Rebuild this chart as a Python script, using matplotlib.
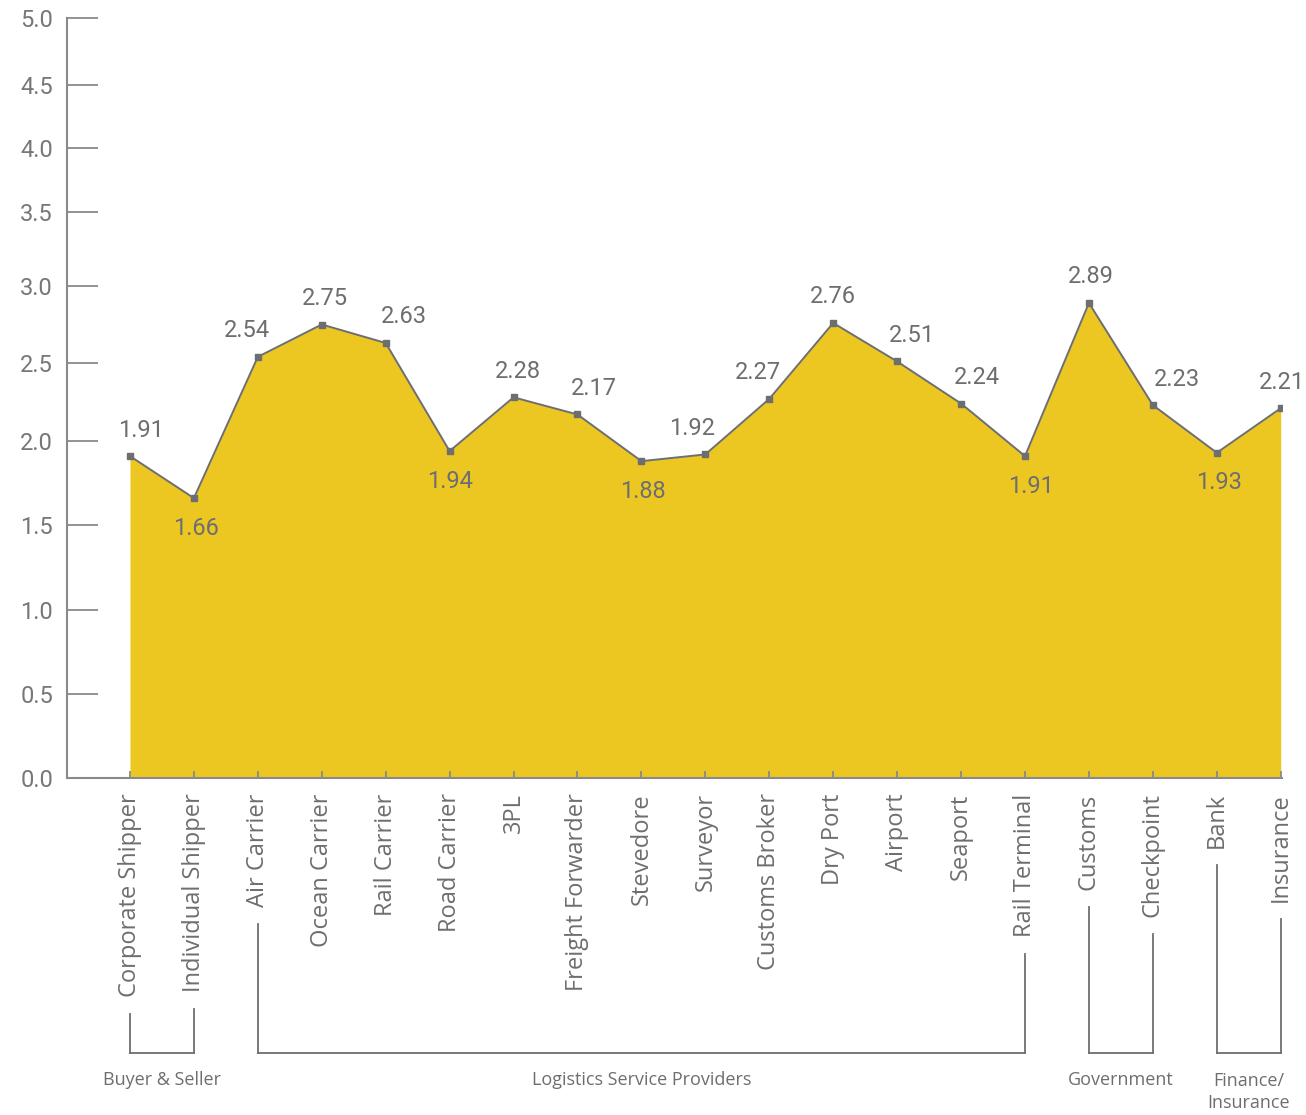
import numpy as np
import matplotlib
matplotlib.use("Agg")
import matplotlib.pyplot as plt
from matplotlib.lines import Line2D

plt.rcParams['font.family'] = ['Roboto', 'DejaVu Sans']

# ---- data ----
categories = ["Corporate Shipper", "Individual Shipper", "Air Carrier", "Ocean Carrier",
              "Rail Carrier", "Road Carrier", "3PL", "Freight Forwarder", "Stevedore",
              "Surveyor", "Customs Broker", "Dry Port", "Airport", "Seaport",
              "Rail Terminal", "Customs", "Checkpoint", "Bank", "Insurance"]
values = [1.91, 1.66, 2.54, 2.75, 2.63, 1.94, 2.28, 2.17, 1.88, 1.92,
          2.27, 2.76, 2.51, 2.24, 1.91, 2.89, 2.23, 1.93, 2.21]
ytick_values = [0.0, 0.5, 1.0, 1.5, 2.0, 2.5, 3.0, 3.5, 4.0, 4.5, 5.0]
ytick_labels = ["0.0", "0.5", "1.0", "1.5", "2.0", "2.5", "3.0", "3.5", "4.0", "4.5", "5.0"]
groups = ["Buyer & Seller", "Logistics Service Providers", "Government", "Finance/\nInsurance"]
group_members = [(0, 1), (2, 14), (15, 16), (17, 18)]

# ---- styling (label placement) ----
label_above = [True, False, True, True, True, False, True, True, False, True,
               True, True, True, True, False, True, True, False, True]
label_dx = [11, 2, -11, 3, 18, 0, 4, 16, 1, -13, -11, 0, 15, 16, 6, 2, 24, 2, 1]
# vertical axis spacing as drawn in the original (relative screen position of each tick)
tick_screen = [0, 84, 168, 253, 337, 415, 492, 566, 630, 693, 760]

W, H = 1306, 1115
fig = plt.figure(figsize=(W / 100, H / 100), dpi=100)
ax = fig.add_axes([67 / W, 1 - 778 / H, (1282 - 67) / W, (778 - 18) / H])

def fwd(v):
    return np.interp(v, ytick_values, tick_screen)

def inv(p):
    return np.interp(p, tick_screen, ytick_values)

ax.set_yscale('function', functions=(fwd, inv))

yellow = '#ECC722'
gray = '#6D6E71'
axgray = '#8A8A8A'
x = np.arange(len(categories))

ax.fill_between(x, 0, values, color=yellow, linewidth=0, zorder=1)
ax.plot(x, values, color=gray, linewidth=1.4, marker='s', markersize=4.5,
        markerfacecolor=gray, markeredgecolor=gray, zorder=3)

for i, v in enumerate(values):
    dy = 26 if label_above[i] else -30
    ax.annotate(f"{v:.2f}", (x[i], v), xytext=(label_dx[i], dy), textcoords='offset pixels',
                ha='center', va='center', fontsize=17, color=gray, zorder=4)

ax.set_xlim(-0.985, 18.02)
ax.set_ylim(0, 5)
ax.set_yticks(ytick_values)
ax.set_yticklabels(ytick_labels)
ax.set_xticks(x)
ax.set_xticklabels(categories, rotation=90, ha='center', va='top',
                   family=['Open Sans', 'DejaVu Sans'])

for s in ['top', 'right']:
    ax.spines[s].set_visible(False)
for s in ['left', 'bottom']:
    ax.spines[s].set_color(axgray)
    ax.spines[s].set_linewidth(1.5)

ax.tick_params(axis='y', direction='in', length=22, width=1.3, color=axgray,
               labelsize=17, labelcolor='#777777', pad=10)
ax.tick_params(axis='x', direction='in', length=5, width=1.3, color=axgray,
               labelsize=17, labelcolor=gray, pad=11)
ax.set_facecolor('none')

# ---- group brackets ----
fig.canvas.draw()
renderer = fig.canvas.get_renderer()
labels = ax.get_xticklabels()
ybr = H - 1053  # display y of bracket bottom
for (a, b), name in zip(group_members, groups):
    xa = ax.transData.transform((x[a], 0))[0]
    xb = ax.transData.transform((x[b], 0))[0]
    ta = labels[a].get_window_extent(renderer).y0 - 17
    tb = labels[b].get_window_extent(renderer).y0 - 17
    for xx, top in [(xa, ta), (xb, tb)]:
        fig.add_artist(Line2D([xx / W, xx / W], [top / H, ybr / H], transform=fig.transFigure,
                              color=gray, linewidth=1.3))
    fig.add_artist(Line2D([xa / W, xb / W], [ybr / H, ybr / H], transform=fig.transFigure,
                          color=gray, linewidth=1.3))
    ycen = (H - 1080) if "\n" not in name else (H - 1092)
    fig.text((xa + xb) / 2 / W, ycen / H, name, ha='center', va='center',
             fontsize=13, color=gray, linespacing=1.25, family=['Open Sans', 'DejaVu Sans'])

fig.savefig("out.png", dpi=100)
